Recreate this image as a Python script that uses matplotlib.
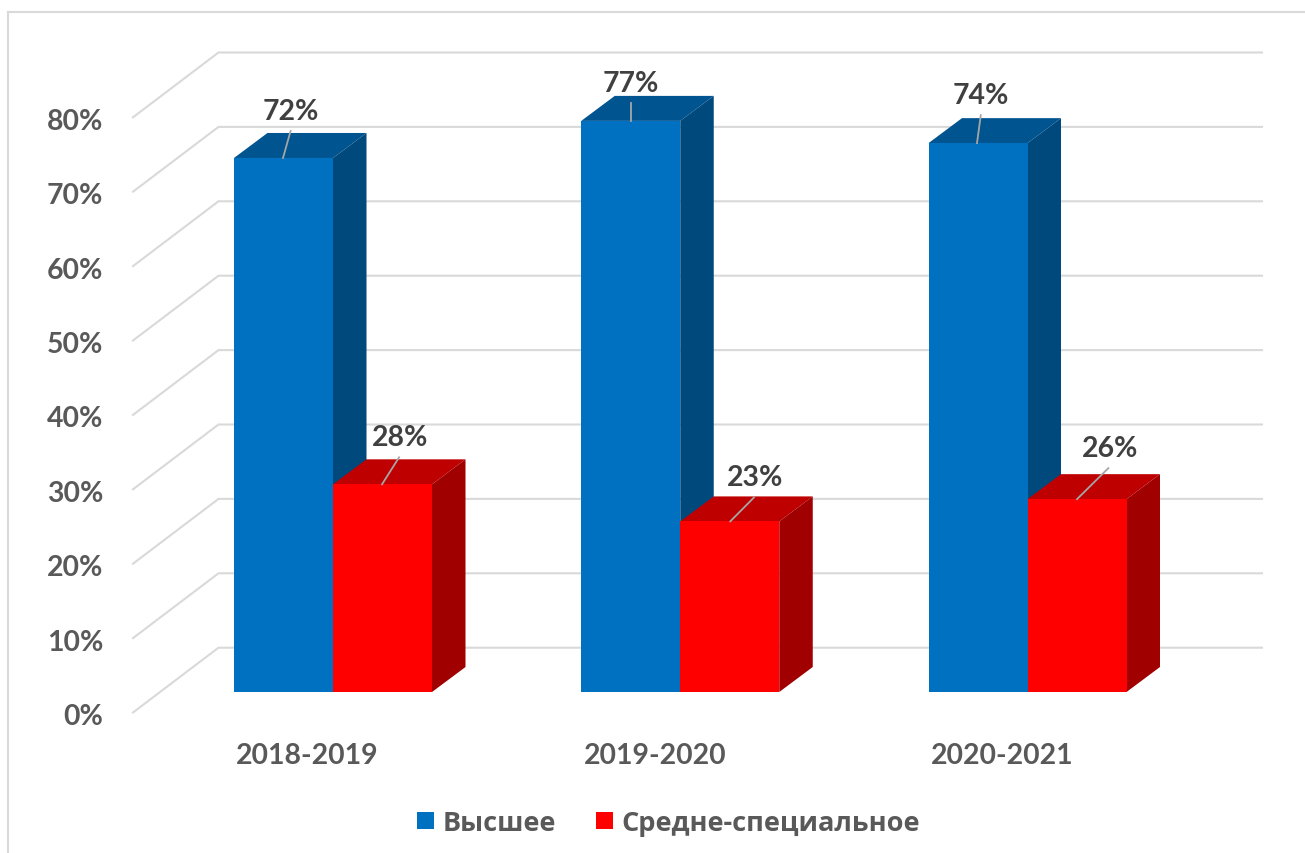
import matplotlib
matplotlib.use("Agg")
import matplotlib.pyplot as plt
from matplotlib.patches import Polygon, Patch
from matplotlib.lines import Line2D

categories = ["2018-2019", "2019-2020", "2020-2021"]
higher = [72, 77, 74]
secondary = [28, 23, 26]
axis_ticks = [0, 10, 20, 30, 40, 50, 60, 70, 80]
series_names = ["Высшее", "Средне-специальное"]

# layout (pixels of the 1305x854 canvas)
W, H = 1305, 854
PX_CAT = 347.25
PX_PCT = 7.417
X0, Y0 = 333.0, 692.0
Y_SHIFT = 1.0
BAR_PX = 99.0
DEPTH_X, DEPTH_Y = 33.5, 25.0
WALL_PCT = 7.44

FONT = ["Lato", "Open Sans", "DejaVu Sans"]
LEG_FONT = ["Open Sans", "DejaVu Sans"]
GRID = "#D9D9D9"
TXT = "#595959"
LAB = "#404040"

fig = plt.figure(figsize=(W / 100, H / 100), dpi=100, facecolor="white")
ax = fig.add_axes([0, 0, 1, 1])
ax.set_xlim(-X0 / PX_CAT, (W - X0) / PX_CAT)
ax.set_ylim(-(H - Y0 - Y_SHIFT) / PX_PCT, (Y0 + Y_SHIFT) / PX_PCT)
ax.axis("off")


def px(dx):
    return dx / PX_CAT


def py(dy):
    return dy / PX_PCT


# outer frame
fig.add_artist(Line2D([8 / W, 8 / W], [0, 1 - 13 / H], color=GRID, lw=1.5))
fig.add_artist(Line2D([8 / W, 1], [1 - 13 / H, 1 - 13 / H], color=GRID, lw=1.5))

# walls and gridlines
WALL_FRONT_X, WALL_BACK_X, WALL_END_X = px(133 - X0), px(218.5 - X0), px(1262 - X0)
FLOOR_FRONT, FLOOR_BACK = py(Y0 - 712.5), py(Y0 - 647.7)
for t in axis_ticks:
    off = t * WALL_PCT / PX_PCT
    ax.plot([WALL_FRONT_X, WALL_BACK_X, WALL_END_X],
            [FLOOR_FRONT + off, FLOOR_BACK + off, FLOOR_BACK + off],
            color=GRID, lw=1.5, zorder=1, solid_joinstyle="miter")
    ax.text(px(103 - X0), FLOOR_FRONT + off - py(3.5), f"{t}%", ha="right", va="center",
            fontsize=20.4, fontweight="bold", family=FONT, color=TXT)


def bar3d(x_left, value, front, top, side, z):
    w, dx, dy = px(BAR_PX), px(DEPTH_X), py(DEPTH_Y)
    ax.bar(x_left, value, width=w, align="edge", color=front, zorder=z + 0.2, linewidth=0)
    ax.add_patch(Polygon([(x_left, value), (x_left + w, value), (x_left + w + dx, value + dy),
                          (x_left + dx, value + dy)], closed=True, fc=top, ec="none", zorder=z))
    ax.add_patch(Polygon([(x_left + w, 0), (x_left + w + dx, dy), (x_left + w + dx, value + dy),
                          (x_left + w, value)], closed=True, fc=side, ec="none", zorder=z))


BLUE = ("#0070C0", "#005490", "#00497D")
RED = ("#FF0000", "#BF0000", "#A00000")

# leader start on the bar (px from group centre), text centre (px from that start)
blue_anchor = [-50, -49, -50.5]
blue_text = [(8, 47), (0, 38), (4, 48)]
red_anchor = [49, 50, 49.5]
red_text = [(18, 47), (25, 44), (33, 51)]

for i, cat in enumerate(categories):
    bar3d(i - px(BAR_PX), higher[i], *BLUE, 2)
    bar3d(i, secondary[i], *RED, 3)
    for anchors, texts, vals in ((blue_anchor, blue_text, higher), (red_anchor, red_text, secondary)):
        ax_x = i + px(anchors[i])
        tx, ty = texts[i]
        # leader stops short of the label
        ax.plot([ax_x, ax_x + px(tx * 0.95)], [vals[i], vals[i] + py(ty - 20)],
                color="#A6A6A6", lw=1.3, zorder=5)
        ax.text(ax_x + px(tx), vals[i] + py(ty), f"{vals[i]}%", ha="center", va="center",
                fontsize=20.4, fontweight="bold", family=FONT, color=LAB, zorder=6)
    ax.text(i + px(-25.5), py(Y0 - 755), cat, ha="center", va="center",
            fontsize=20.4, fontweight="bold", family=FONT, color=TXT)

handles = [Patch(fc=BLUE[0], ec="none"), Patch(fc=RED[0], ec="none")]
leg = ax.legend(handles, series_names, ncol=2, frameon=False, loc="center",
                bbox_to_anchor=(668.5 / W, 1 - 824 / H), handlelength=0.63, handleheight=0.63,
                handletextpad=0.30, columnspacing=1.5,
                prop={"family": LEG_FONT, "weight": "bold", "size": 19.5}, labelcolor=TXT)

fig.savefig("out.png", dpi=100)
